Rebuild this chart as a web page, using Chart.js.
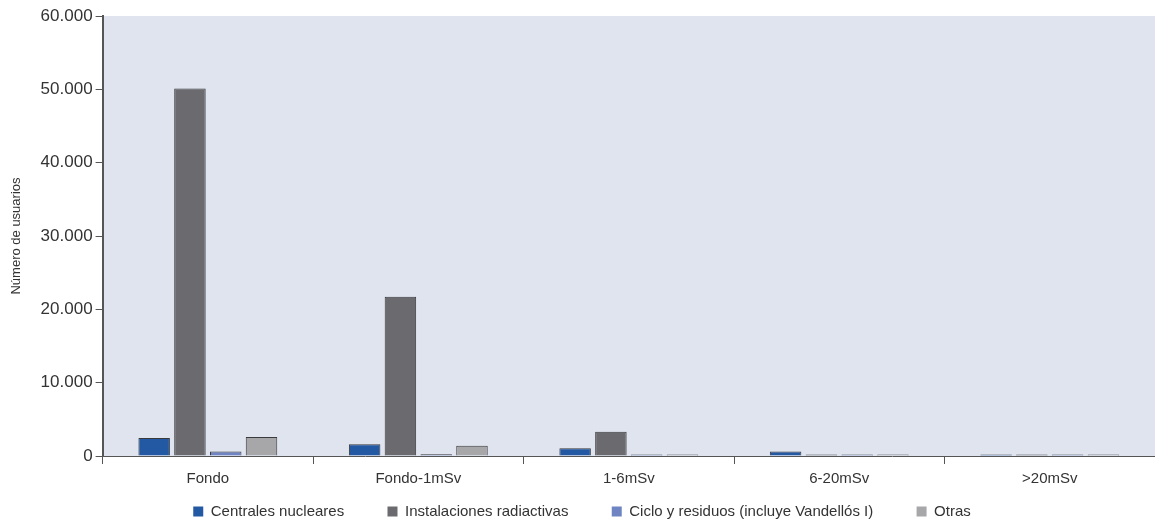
<!DOCTYPE html>
<html>
<head>
<meta charset="utf-8">
<script src="https://cdn.jsdelivr.net/npm/chart.js@4"></script>
<style>
  html, body { margin: 0; padding: 0; background: #ffffff; }
  #wrap { width: 1155px; height: 520px; position: relative; }
</style>
</head>
<body>
<div id="wrap"><canvas id="chart"></canvas></div>
<script>
// categories and series
var categories = ["Fondo", "Fondo-1mSv", "1-6mSv", "6-20mSv", ">20mSv"];
var centrales = [2450, 1600, 1050, 600, 200];
var instalaciones = [50100, 21700, 3300, 220, 200];
var ciclo = [620, 230, 220, 220, 200];
var otras = [2600, 1400, 220, 220, 200];
var seriesNames = ["Centrales nucleares", "Instalaciones radiactivas", "Ciclo y residuos (incluye Vandellós I)", "Otras"];
var seriesColours = ["#2359a3", "#6b6b6f", "#6e84c3", "#a7a7aa"];

var labelFont = "'Liberation Sans', 'Arial', sans-serif";

// fill the plot area with the light blue-grey background
var plotBackground = {
  id: "plotBackground",
  beforeDraw: function(chart) {
    var a = chart.chartArea;
    var ctx = chart.ctx;
    ctx.save();
    ctx.fillStyle = "#dfe4ef";
    ctx.fillRect(a.left, a.top, a.right - a.left, a.bottom - a.top);
    ctx.restore();
  }
};

// thousands with a dot, as in the spanish original
function fmt(v) {
  return v.toString().replace(/\B(?=(\d{3})+(?!\d))/g, ".");
}

var data = [centrales, instalaciones, ciclo, otras];
var datasets = data.map(function(d, i) {
  return {
    label: seriesNames[i],
    data: d,
    backgroundColor: seriesColours[i],
    borderColor: "#3a3a3c",
    borderWidth: 1,
    categoryPercentage: 0.68,
    barPercentage: 0.88
  };
});

new Chart(document.getElementById("chart"), {
  type: "bar",
  data: { labels: categories, datasets: datasets },
  plugins: [plotBackground],
  options: {
    responsive: true,
    maintainAspectRatio: false,
    animation: false,
    layout: { padding: { top: 16, right: 0, left: 9, bottom: -9 } },
    plugins: {
      tooltip: { enabled: false },
      legend: {
        position: "bottom",
        labels: {
          boxWidth: 10,
          boxHeight: 10,
          padding: 10,
          color: "#333333",
          font: { family: labelFont, size: 15 },
          // keep the vertical padding small, widen the gap between items with spaces
          generateLabels: function(chart) {
            var items = Chart.defaults.plugins.legend.labels.generateLabels(chart);
            items.forEach(function(it, i) {
              it.lineWidth = 0;
              if (i < items.length - 1) it.text = it.text + "        ";
            });
            return items;
          }
        }
      }
    },
    scales: {
      x: {
        grid: { display: true, drawOnChartArea: false, offset: true, tickLength: 8, color: "#555555" },
        border: { color: "#555555", width: 1 },
        ticks: {
          color: "#333333",
          padding: 6,
          font: { family: labelFont, size: 15 }
        }
      },
      y: {
        min: 0,
        max: 60000,
        grid: { display: true, drawOnChartArea: false, tickLength: 7, color: "#555555" },
        border: { color: "#555555", width: 2 },
        ticks: {
          stepSize: 10000,
          color: "#333333",
          padding: 3,
          font: { family: labelFont, size: 17 },
          callback: function(v) { return fmt(v); }
        },
        title: {
          display: true,
          text: "Número de usuarios",
          color: "#333333",
          font: { family: labelFont, size: 13 },
          padding: { top: 0, bottom: 13 }
        }
      }
    }
  }
});
</script>
</body>
</html>
